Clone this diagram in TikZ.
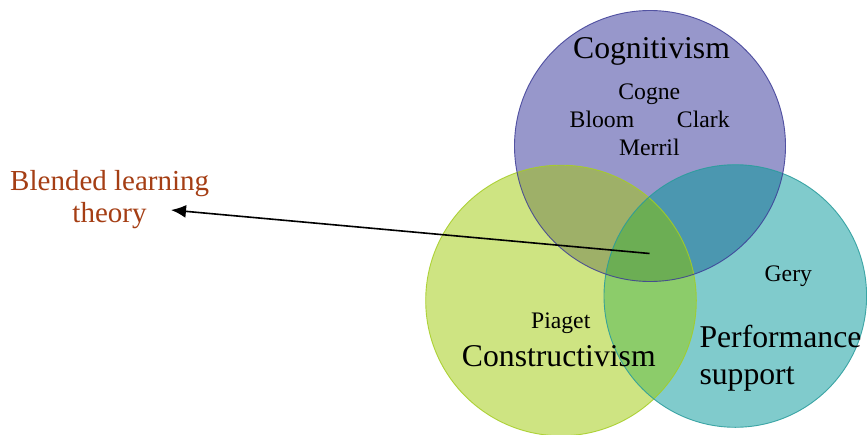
\documentclass[tikz,border=0pt]{standalone}
\usepackage{fontspec}
\setmainfont{Liberation Serif}
\usetikzlibrary{arrows.meta}
\definecolor{cpur}{RGB}{151,151,203}
\definecolor{cgrn}{RGB}{206,228,130}
\definecolor{ctea}{RGB}{128,203,204}
\definecolor{cpg}{RGB}{158,176,104}
\definecolor{cpt}{RGB}{75,151,176}
\definecolor{cgt}{RGB}{140,204,106}
\definecolor{cpgt}{RGB}{108,174,84}
\definecolor{bpur}{RGB}{60,60,150}
\definecolor{bgrn}{RGB}{165,205,35}
\definecolor{btea}{RGB}{40,155,155}
\definecolor{cbrown}{RGB}{165,62,20}
\begin{document}
\begin{tikzpicture}[x=1pt,y=-1pt,
  big/.style={font=\fontsize{31.7}{36}\selectfont, inner sep=0pt, anchor=base},
  small/.style={font=\fontsize{23.7}{28}\selectfont, inner sep=0pt, anchor=base},
  side/.style={font=\fontsize{29}{32}\selectfont, inner sep=0pt, anchor=base, text=cbrown},
  rim/.style={line width=0.9pt, draw opacity=0.85}]
\fill[white] (0,0) rectangle (867,434);
\useasboundingbox (0,0) rectangle (867,434);
\def\P{(650,146) circle [radius=135.5pt]}
\def\G{(561,300.5) circle [radius=135.3pt]}
\def\T{(735.3,296) circle [radius=131.3pt]}
% single regions
\fill[cpur] \P;
\fill[cgrn] \G;
\fill[ctea] \T;
% pairwise
\begin{scope}\clip \P; \fill[cpg] \G; \end{scope}
\begin{scope}\clip \P; \fill[cpt] \T; \end{scope}
\begin{scope}\clip \G; \fill[cgt] \T; \end{scope}
\begin{scope}\clip \P; \clip \G; \fill[cpgt] \T; \end{scope}
% rims
\draw[rim, bgrn] \G;
\draw[rim, btea] \T;
\draw[rim, bpur] \P;
% texts
\node[big] (cog) at (651.5,58.3) {Cognitivism};
\node[small] (cogne) at (649.3,99.3) {Cogne};
\node[small] (bloom) at (602,127.7) {Bloom};
\node[small] (clark) at (703.3,127.7) {Clark};
\node[small] (merril) at (649.3,155.3) {Merril};
\node[small] (gery) at (788.3,281) {Gery};
\node[small] (piaget) at (560.7,328.3) {Piaget};
\node[big] (cons) at (558.8,366.7) {Constructivism};
\node[big, anchor=base west] (perf) at (699.3,347.7) {Performance};
\node[big, anchor=base west] (supp) at (699.3,384) {support};
\node[side] (bl1) at (109.7,190) {Blended learning};
\node[side] (bl2) at (109.5,222) {theory};
\coordinate (hub) at (649.5,253.5);
\coordinate (tip) at (171,210);
\draw[line width=1.6pt, -{Latex[length=15pt,width=13pt]}] (hub) -- (tip);
\end{tikzpicture}
\end{document}
